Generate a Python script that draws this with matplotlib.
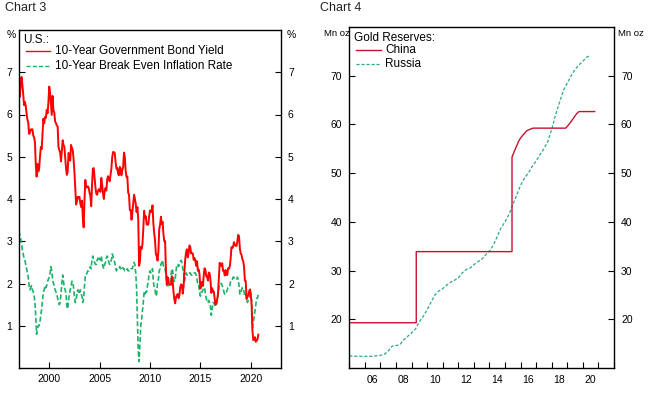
import numpy as np
import matplotlib
matplotlib.use("Agg")
import matplotlib.pyplot as plt
from matplotlib.lines import Line2D

plt.rcParams['font.family'] = ['Liberation Sans', 'DejaVu Sans']

# ---------------- Chart 3 data (monthly, from Jan 1997) ----------------
us_10y_yield = [
    6.58, 6.42, 6.69, 6.89, 6.71, 6.49, 6.22, 6.30, 6.21, 6.03, 5.88, 5.81,  # 1997
    5.54, 5.57, 5.65, 5.64, 5.65, 5.50, 5.46, 5.34, 4.81, 4.53, 4.83, 4.65,  # 1998
    4.72, 5.00, 5.23, 5.18, 5.54, 5.90, 5.79, 5.94, 5.92, 6.11, 6.03, 6.28,  # 1999
    6.66, 6.52, 6.26, 5.99, 6.44, 6.10, 6.05, 5.83, 5.80, 5.74, 5.72, 5.24,  # 2000
    5.16, 5.10, 4.89, 5.14, 5.39, 5.28, 5.24, 4.97, 4.73, 4.57, 4.65, 5.09,  # 2001
    5.04, 4.91, 5.28, 5.21, 5.16, 4.93, 4.65, 4.26, 3.87, 3.94, 4.05, 4.03,  # 2002
    4.05, 3.90, 3.81, 3.96, 3.57, 3.33, 3.98, 4.45, 4.27, 4.29, 4.30, 4.27,  # 2003
    4.15, 4.08, 3.83, 4.35, 4.72, 4.73, 4.50, 4.28, 4.13, 4.10, 4.19, 4.23,  # 2004
    4.22, 4.17, 4.50, 4.34, 4.14, 4.00, 4.18, 4.26, 4.20, 4.46, 4.54, 4.47,  # 2005
    4.42, 4.57, 4.72, 4.99, 5.11, 5.11, 5.09, 4.88, 4.72, 4.73, 4.60, 4.56,  # 2006
    4.76, 4.72, 4.56, 4.69, 4.75, 5.10, 5.00, 4.67, 4.52, 4.53, 4.15, 4.10,  # 2007
    3.74, 3.74, 3.51, 3.68, 3.88, 4.10, 4.01, 3.89, 3.69, 3.81, 3.53, 2.42,  # 2008
    2.52, 2.87, 2.82, 2.93, 3.29, 3.72, 3.56, 3.59, 3.40, 3.39, 3.40, 3.59,  # 2009
    3.73, 3.69, 3.73, 3.85, 3.42, 3.20, 3.01, 2.70, 2.65, 2.54, 2.76, 3.29,  # 2010
    3.39, 3.58, 3.41, 3.46, 3.17, 3.00, 3.00, 2.30, 1.98, 2.15, 2.01, 1.98,  # 2011
    1.97, 1.97, 2.17, 2.05, 1.80, 1.62, 1.53, 1.68, 1.72, 1.75, 1.65, 1.72,  # 2012
    1.91, 1.98, 1.96, 1.76, 1.93, 2.30, 2.58, 2.74, 2.81, 2.62, 2.72, 2.90,  # 2013
    2.86, 2.71, 2.72, 2.71, 2.56, 2.60, 2.54, 2.42, 2.53, 2.30, 2.33, 2.21,  # 2014
    1.88, 1.98, 2.04, 1.94, 2.20, 2.36, 2.32, 2.17, 2.17, 2.07, 2.26, 2.24,  # 2015
    2.09, 1.78, 1.89, 1.81, 1.81, 1.64, 1.50, 1.56, 1.63, 1.76, 2.14, 2.49,  # 2016
    2.43, 2.42, 2.48, 2.30, 2.30, 2.19, 2.32, 2.21, 2.20, 2.36, 2.35, 2.40,  # 2017
    2.58, 2.86, 2.84, 2.87, 2.98, 2.91, 2.89, 2.89, 3.00, 3.15, 3.12, 2.83,  # 2018
    2.71, 2.68, 2.57, 2.53, 2.40, 2.07, 2.06, 1.63, 1.70, 1.71, 1.81, 1.86,  # 2019
    1.76, 1.50, 0.87, 0.66, 0.67, 0.73, 0.62, 0.65, 0.68, 0.79,              # 2020
]
us_breakeven = [
    3.25, 3.15, 3.05, 2.95, 2.80, 2.70, 2.60, 2.55, 2.45, 2.35, 2.25, 2.15,  # 1997
    1.95, 1.85, 1.90, 1.95, 1.85, 1.80, 1.70, 1.55, 1.20, 0.80, 0.95, 1.00,  # 1998
    1.00, 1.10, 1.25, 1.40, 1.60, 1.80, 1.85, 1.95, 1.90, 1.95, 2.05, 2.10,  # 1999
    2.15, 2.25, 2.40, 2.30, 2.10, 2.00, 1.95, 1.85, 1.80, 1.75, 1.65, 1.55,  # 2000
    1.50, 1.55, 1.75, 2.00, 2.20, 2.05, 1.90, 1.85, 1.75, 1.45, 1.40, 1.60,  # 2001
    1.75, 1.85, 1.95, 2.05, 2.05, 1.90, 1.70, 1.55, 1.60, 1.75, 1.85, 1.80,  # 2002
    1.75, 1.85, 1.75, 1.70, 1.55, 1.65, 1.95, 2.20, 2.20, 2.25, 2.30, 2.30,  # 2003
    2.35, 2.40, 2.35, 2.60, 2.65, 2.55, 2.50, 2.45, 2.45, 2.55, 2.60, 2.55,  # 2004
    2.60, 2.55, 2.65, 2.50, 2.40, 2.35, 2.45, 2.50, 2.60, 2.65, 2.60, 2.50,  # 2005
    2.45, 2.50, 2.55, 2.70, 2.65, 2.55, 2.50, 2.40, 2.30, 2.35, 2.35, 2.35,  # 2006
    2.40, 2.35, 2.40, 2.40, 2.35, 2.35, 2.30, 2.30, 2.30, 2.35, 2.30, 2.30,  # 2007
    2.30, 2.35, 2.35, 2.35, 2.45, 2.50, 2.45, 2.25, 1.90, 1.10, 0.40, 0.15,  # 2008
    0.60, 1.00, 1.15, 1.35, 1.55, 1.80, 1.75, 1.80, 1.80, 1.95, 2.05, 2.25,  # 2009
    2.30, 2.25, 2.30, 2.35, 2.05, 1.90, 1.85, 1.70, 1.75, 2.05, 2.10, 2.30,  # 2010
    2.35, 2.45, 2.50, 2.55, 2.40, 2.35, 2.35, 2.20, 1.95, 1.95, 1.95, 2.00,  # 2011
    2.05, 2.20, 2.35, 2.30, 2.10, 2.05, 2.10, 2.30, 2.45, 2.45, 2.40, 2.45,  # 2012
    2.50, 2.55, 2.50, 2.35, 2.25, 2.05, 2.15, 2.25, 2.20, 2.20, 2.20, 2.25,  # 2013
    2.25, 2.20, 2.20, 2.25, 2.25, 2.25, 2.25, 2.20, 2.10, 1.95, 1.95, 1.80,  # 2014
    1.70, 1.80, 1.80, 1.85, 1.90, 1.90, 1.75, 1.65, 1.55, 1.55, 1.60, 1.55,  # 2015
    1.45, 1.25, 1.40, 1.55, 1.55, 1.50, 1.45, 1.50, 1.55, 1.70, 1.90, 2.00,  # 2016
    2.00, 2.00, 1.95, 1.90, 1.80, 1.75, 1.80, 1.80, 1.85, 1.90, 1.90, 1.95,  # 2017
    2.05, 2.10, 2.10, 2.15, 2.15, 2.10, 2.10, 2.10, 2.15, 2.10, 1.95, 1.75,  # 2018
    1.75, 1.85, 1.90, 1.90, 1.80, 1.70, 1.75, 1.65, 1.55, 1.60, 1.65, 1.75,  # 2019
    1.75, 1.60, 0.95, 1.10, 1.20, 1.35, 1.50, 1.65, 1.65, 1.75, 1.75,        # 2020
]
start_year3 = 1997
x_ticks3 = [2000, 2005, 2010, 2015, 2020]
y_ticks3 = [1, 2, 3, 4, 5, 6, 7]

# ---------------- Chart 4 data ----------------
china_t = [2005.0, 2009.3, 2009.3, 2015.45, 2015.45, 2015.6, 2015.75, 2015.9, 2016.0,
           2016.2, 2016.4, 2016.6, 2016.8, 2018.9, 2019.0, 2019.2, 2019.4, 2019.6,
           2019.75, 2020.76]
china_v = [19.29, 19.29, 33.89, 33.89, 53.3, 54.5, 55.6, 56.7, 57.2,
           58.0, 58.7, 59.0, 59.24, 59.24, 59.6, 60.4, 61.3, 62.2,
           62.64, 62.64]
russia_t = [2005.0, 2005.25, 2005.5, 2005.75, 2006.0, 2006.25, 2006.5, 2006.75,
            2007.0, 2007.25, 2007.5, 2007.75, 2008.0, 2008.25, 2008.5, 2008.75,
            2009.0, 2009.25, 2009.5, 2009.75, 2010.0, 2010.25, 2010.5, 2010.75,
            2011.0, 2011.25, 2011.5, 2011.75, 2012.0, 2012.25, 2012.5, 2012.75,
            2013.0, 2013.25, 2013.5, 2013.75, 2014.0, 2014.25, 2014.5, 2014.75,
            2015.0, 2015.25, 2015.5, 2015.75, 2016.0, 2016.25, 2016.5, 2016.75,
            2017.0, 2017.25, 2017.5, 2017.75, 2018.0, 2018.25, 2018.5, 2018.75,
            2019.0, 2019.25, 2019.5, 2019.75, 2020.0, 2020.25, 2020.5]
russia_v = [12.5, 12.4, 12.4, 12.4, 12.4, 12.4, 12.4, 12.5,
            12.6, 12.8, 13.5, 14.5, 14.6, 14.8, 15.8, 16.5,
            17.2, 18.0, 19.5, 20.6, 22.0, 23.5, 25.0, 25.8,
            26.3, 27.0, 27.6, 28.0, 28.5, 29.5, 30.2, 30.5,
            31.2, 31.8, 32.3, 33.2, 34.0, 35.2, 37.0, 38.8,
            40.0, 41.5, 43.5, 45.5, 47.5, 49.0, 50.0, 51.4,
            52.5, 53.8, 55.0, 56.5, 59.0, 62.0, 64.5, 67.0,
            68.5, 70.0, 71.3, 72.2, 73.0, 73.8, 74.2]
year_ticks4 = list(range(2005, 2023))
label_years4 = [2006, 2008, 2010, 2012, 2014, 2016, 2018, 2020]
y_ticks4 = [20, 30, 40, 50, 60, 70]

W, H = 649, 396
fig = plt.figure(figsize=(W / 100, H / 100), dpi=100)

def fx(px):
    return px / W

def fy(py):
    return 1 - py / H

TICKFS = 7.5
LEGFS = 8.5

# ---------------- Chart 3 ----------------
ax3 = fig.add_axes([fx(19), fy(368), fx(281) - fx(19), fy(30) - fy(368)])
t_yield = start_year3 + np.arange(len(us_10y_yield)) / 12
t_be = start_year3 + np.arange(len(us_breakeven)) / 12
ax3.plot(t_be, us_breakeven, color='#1db36b', lw=1.2, dashes=(3, 1.5))
ax3.plot(t_yield, us_10y_yield, color='#ff0000', lw=1.4)
ax3.set_xlim(1997, 2023)
ax3.set_ylim(0, 8)
ax3.set_xticks(x_ticks3)
ax3.set_xticklabels([str(v) for v in x_ticks3])
ax3.set_yticks(y_ticks3)
ax3.set_yticklabels([str(v) for v in y_ticks3])
ax3.tick_params(axis='both', direction='in', length=4, width=0.8, labelsize=TICKFS,
                right=True, labelright=True, top=False, pad=5)
ax3.tick_params(axis='x', pad=4)
for s in ax3.spines.values():
    s.set_linewidth(1.0)

fig.text(fx(5), fy(8), 'Chart 3', fontsize=9, va='center', ha='left', color='#222222')
fig.text(fx(11), fy(35), '%', fontsize=TICKFS, va='center', ha='center')
fig.text(fx(291), fy(35), '%', fontsize=TICKFS, va='center', ha='center')
fig.text(fx(23), fy(40), 'U.S.:', fontsize=LEGFS, va='center', ha='left')
fig.add_artist(Line2D([fx(26), fx(50)], [fy(51), fy(51)], color='#ff0000', lw=1.0))
fig.text(fx(55), fy(51), '10-Year Government Bond Yield', fontsize=LEGFS, va='center', ha='left')
fig.add_artist(Line2D([fx(26), fx(50)], [fy(66), fy(66)], color='#1db36b', lw=1.0, dashes=(3, 1.5)))
fig.text(fx(55), fy(66), '10-Year Break Even Inflation Rate', fontsize=LEGFS, va='center', ha='left')

# ---------------- Chart 4 ----------------
ax4 = fig.add_axes([fx(349.3), fy(368), fx(614) - fx(349.3), fy(27) - fy(368)])
ax4.plot(russia_t, russia_v, color='#2aa98a', lw=0.9, dashes=(2.5, 1.5))
ax4.plot(china_t, china_v, color='#c8102e', lw=1.0)
ax4.set_xlim(2005, 2022)
ax4.set_ylim(10, 80)
ax4.set_xticks(year_ticks4)
ax4.set_xticklabels([])
ax4.set_xticks([y + 0.5 for y in label_years4], minor=True)
ax4.set_xticklabels(['%02d' % (y % 100) for y in label_years4], minor=True)
ax4.set_yticks(y_ticks4)
ax4.set_yticklabels([str(v) for v in y_ticks4])
ax4.tick_params(axis='both', which='major', direction='in', length=4, width=0.8,
                labelsize=TICKFS, right=True, labelright=True, top=False, pad=5)
ax4.tick_params(axis='x', which='minor', length=0, labelsize=TICKFS, pad=5)
for s in ax4.spines.values():
    s.set_linewidth(1.0)

fig.text(fx(320), fy(8), 'Chart 4', fontsize=9, va='center', ha='left', color='#222222')
fig.text(fx(337), fy(33), 'Mn oz', fontsize=6.8, va='center', ha='center')
fig.text(fx(631), fy(33), 'Mn oz', fontsize=6.8, va='center', ha='center')
fig.text(fx(354), fy(38), 'Gold Reserves:', fontsize=LEGFS, va='center', ha='left')
fig.add_artist(Line2D([fx(356), fx(381)], [fy(50), fy(50)], color='#c8102e', lw=1.0))
fig.text(fx(385), fy(50), 'China', fontsize=LEGFS, va='center', ha='left')
fig.add_artist(Line2D([fx(356), fx(381)], [fy(64), fy(64)], color='#2aa98a', lw=0.9, dashes=(2.5, 1.5)))
fig.text(fx(385), fy(64), 'Russia', fontsize=LEGFS, va='center', ha='left')

fig.savefig('out.png', dpi=100)
